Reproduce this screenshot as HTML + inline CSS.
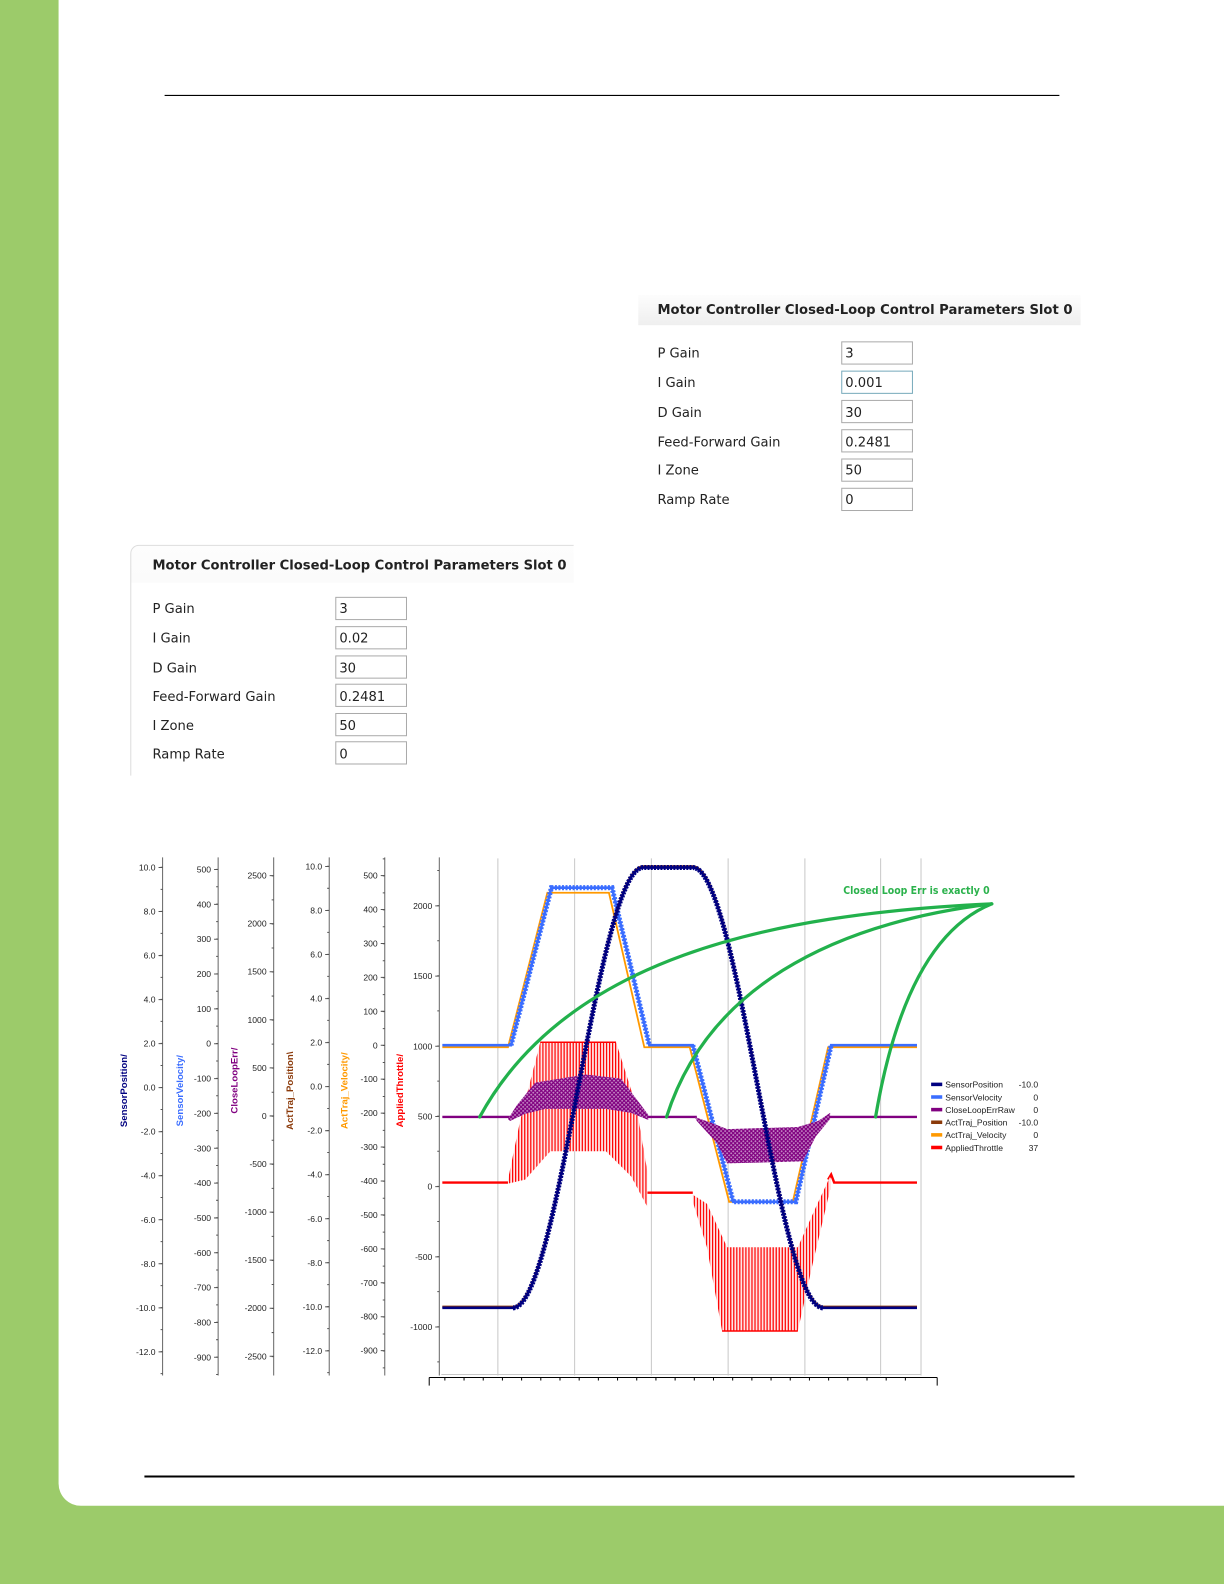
<!DOCTYPE html>
<html><head><meta charset="utf-8"><style>
html,body{margin:0;padding:0;background:#9ccb6a;}
svg{display:block}
</style></head><body>
<svg xmlns="http://www.w3.org/2000/svg" width="1224" height="1584" viewBox="0 0 1224 1584">
<defs>
<linearGradient id="hg" x1="0" y1="0" x2="0" y2="1"><stop offset="0" stop-color="#fdfdfd"/><stop offset="1" stop-color="#efefef"/></linearGradient>
<pattern id="rv" width="3" height="10" patternUnits="userSpaceOnUse"><rect width="3" height="10" fill="#ffe4e4"/><rect x="0" y="0" width="1.2" height="10" fill="#ff0000"/></pattern>
<pattern id="pv" width="4" height="4" patternUnits="userSpaceOnUse"><rect width="4" height="4" fill="#c890c8"/><path d="M0,0L4,4M4,0L0,4" stroke="#800080" stroke-width="1.2"/></pattern>
</defs>
<rect width="1224" height="1584" fill="#9ccb6a"/>
<g transform="scale(1.0099)">
<path d="M58,0 H1212 V1491 H80 A22,22 0 0 1 58,1469 Z" fill="#fff"/>
<line x1="163" y1="94.5" x2="1049" y2="94.5" stroke="#000" stroke-width="1.2"/>
<line x1="143" y1="1462" x2="1064" y2="1462" stroke="#000" stroke-width="2"/>
<rect x="632" y="292" width="438" height="30" fill="url(#hg)"/>
<g font-family="DejaVu Sans, sans-serif" font-size="13" fill="#222">
<text x="651" y="311" font-weight="bold" font-size="13.2" textLength="411" lengthAdjust="spacingAndGlyphs">Motor Controller Closed-Loop Control Parameters Slot 0</text>
<text x="651" y="354">P Gain</text><text x="651" y="383">I Gain</text><text x="651" y="413">D Gain</text>
<text x="651" y="442">Feed-Forward Gain</text><text x="651" y="470">I Zone</text><text x="651" y="499">Ramp Rate</text>
<g fill="#fff" stroke="#aaa"><rect x="833.5" y="338.5" width="70" height="22"/><rect x="833.5" y="367.5" width="70" height="22" stroke="#7ab"/><rect x="833.5" y="396.5" width="70" height="22"/><rect x="833.5" y="425.5" width="70" height="22"/><rect x="833.5" y="454.5" width="70" height="22"/><rect x="833.5" y="483.5" width="70" height="22"/></g>
<text x="837" y="354">3</text><text x="837" y="383">0.001</text><text x="837" y="413">30</text><text x="837" y="442">0.2481</text><text x="837" y="470">50</text><text x="837" y="499">0</text>
</g>
<path d="M129.5,768 V548 A8,8 0 0 1 137.5,540 H568 V577 H129.5" fill="url(#hg)"/>
<path d="M129.5,768 V548 A8,8 0 0 1 137.5,540 H568" fill="none" stroke="#ddd"/>
<g font-family="DejaVu Sans, sans-serif" font-size="13" fill="#222">
<text x="151" y="564" font-weight="bold" font-size="13.2" textLength="410" lengthAdjust="spacingAndGlyphs">Motor Controller Closed-Loop Control Parameters Slot 0</text>
<text x="151" y="607">P Gain</text><text x="151" y="636">I Gain</text><text x="151" y="666">D Gain</text>
<text x="151" y="694">Feed-Forward Gain</text><text x="151" y="723">I Zone</text><text x="151" y="751">Ramp Rate</text>
<g fill="#fff" stroke="#aaa"><rect x="332.5" y="591.5" width="70" height="22"/><rect x="332.5" y="620.5" width="70" height="22"/><rect x="332.5" y="649.5" width="70" height="22"/><rect x="332.5" y="677.5" width="70" height="22"/><rect x="332.5" y="706.5" width="70" height="22"/><rect x="332.5" y="734.5" width="70" height="22"/></g>
<text x="336" y="607">3</text><text x="336" y="636">0.02</text><text x="336" y="666">30</text><text x="336" y="694">0.2481</text><text x="336" y="723">50</text><text x="336" y="751">0</text>
</g>
<g stroke="#c8c8c8" stroke-width="1">
<line x1="493" y1="850" x2="493" y2="1362"/><line x1="569" y1="850" x2="569" y2="1362"/><line x1="645" y1="850" x2="645" y2="1362"/><line x1="721" y1="850" x2="721" y2="1362"/><line x1="797" y1="850" x2="797" y2="1362"/><line x1="872" y1="850" x2="872" y2="1362"/><line x1="912" y1="850" x2="912" y2="1362"/>
<line x1="437" y1="1361" x2="912" y2="1361"/>
</g>
<line x1="425" y1="1364" x2="928" y2="1364" stroke="#000"/>
<line x1="425" y1="1364" x2="425" y2="1372" stroke="#000"/><line x1="928" y1="1364" x2="928" y2="1372" stroke="#000"/>
<line x1="440" y1="1365.5" x2="912" y2="1365.5" stroke="#000" stroke-width="3" stroke-dasharray="1 18"/>
<g stroke="#666">
<line x1="161" y1="849" x2="161" y2="1362"/><line x1="216" y1="849" x2="216" y2="1362"/><line x1="271" y1="849" x2="271" y2="1362"/><line x1="326" y1="849" x2="326" y2="1362"/><line x1="381" y1="849" x2="381" y2="1362"/><line x1="435" y1="849" x2="435" y2="1362"/>
</g>
<g stroke="#555">
<line x1="159" y1="858.5" x2="159" y2="1362" stroke-width="4" stroke-dasharray="1 42.6"/>
<line x1="160" y1="848" x2="160" y2="1362" stroke-width="2" stroke-dasharray="1 20.8" stroke-dashoffset="-10.3"/>
<line x1="214" y1="860.5" x2="214" y2="1362" stroke-width="4" stroke-dasharray="1 33.5"/>
<line x1="215" y1="852" x2="215" y2="1362" stroke-width="2" stroke-dasharray="1 16.25" stroke-dashoffset="-8.3"/>
<line x1="269" y1="866.5" x2="269" y2="1362" stroke-width="4" stroke-dasharray="1 46.6"/>
<line x1="270" y1="855" x2="270" y2="1362" stroke-width="2" stroke-dasharray="1 22.8" stroke-dashoffset="-11.8"/>
<line x1="324" y1="857.5" x2="324" y2="1362" stroke-width="4" stroke-dasharray="1 42.6"/>
<line x1="325" y1="847" x2="325" y2="1362" stroke-width="2" stroke-dasharray="1 20.8" stroke-dashoffset="-10.3"/>
<line x1="379" y1="866.5" x2="379" y2="1362" stroke-width="4" stroke-dasharray="1 32.6"/>
<line x1="380" y1="850" x2="380" y2="1362" stroke-width="2" stroke-dasharray="1 15.8"/>
<line x1="433" y1="896.5" x2="433" y2="1362" stroke-width="4" stroke-dasharray="1 68.5"/>
<line x1="434" y1="861" x2="434" y2="1362" stroke-width="2" stroke-dasharray="1 33.75" stroke-dashoffset="-0.5"/>
</g>
<g font-family="Liberation Sans, sans-serif" font-size="8.5" fill="#222" text-anchor="end">
<g transform="translate(154,3)"><text y="859">10.0</text><text y="902.6">8.0</text><text y="946.2">6.0</text><text y="989.8">4.0</text><text y="1033.4">2.0</text><text y="1077">0.0</text><text y="1120.6">-2.0</text><text y="1164.2">-4.0</text><text y="1207.8">-6.0</text><text y="1251.4">-8.0</text><text y="1295">-10.0</text><text y="1338.6">-12.0</text></g>
<g transform="translate(209,3)"><text y="861">500</text><text y="895.5">400</text><text y="930">300</text><text y="964.5">200</text><text y="999">100</text><text y="1033.5">0</text><text y="1068">-100</text><text y="1102.5">-200</text><text y="1137">-300</text><text y="1171.5">-400</text><text y="1206">-500</text><text y="1240.5">-600</text><text y="1275">-700</text><text y="1309.5">-800</text><text y="1344">-900</text></g>
<g transform="translate(264,3)"><text y="867">2500</text><text y="914.6">2000</text><text y="962.2">1500</text><text y="1009.8">1000</text><text y="1057.4">500</text><text y="1105">0</text><text y="1152.6">-500</text><text y="1200.2">-1000</text><text y="1247.8">-1500</text><text y="1295.4">-2000</text><text y="1343">-2500</text></g>
<g transform="translate(319,3)"><text y="858">10.0</text><text y="901.6">8.0</text><text y="945.2">6.0</text><text y="988.8">4.0</text><text y="1032.4">2.0</text><text y="1076">0.0</text><text y="1119.6">-2.0</text><text y="1163.2">-4.0</text><text y="1206.8">-6.0</text><text y="1250.4">-8.0</text><text y="1294">-10.0</text><text y="1337.6">-12.0</text></g>
<g transform="translate(374,3)"><text y="867">500</text><text y="900.6">400</text><text y="934.2">300</text><text y="967.8">200</text><text y="1001.4">100</text><text y="1035">0</text><text y="1068.6">-100</text><text y="1102.2">-200</text><text y="1135.8">-300</text><text y="1169.4">-400</text><text y="1203">-500</text><text y="1236.6">-600</text><text y="1270.2">-700</text><text y="1303.8">-800</text><text y="1337.4">-900</text></g>
<g transform="translate(428,3)"><text y="897">2000</text><text y="966.5">1500</text><text y="1036">1000</text><text y="1105.5">500</text><text y="1175">0</text><text y="1244.5">-500</text><text y="1314">-1000</text></g>
</g>
<g font-family="Liberation Sans, sans-serif" font-size="9.5" font-weight="bold" text-anchor="middle">
<text transform="translate(126,1080) rotate(-90)" fill="#000080">SensorPosition/</text>
<text transform="translate(181,1080) rotate(-90)" fill="#3a6dff">SensorVelocity/</text>
<text transform="translate(235,1070) rotate(-90)" fill="#800080">CloseLoopErr/</text>
<text transform="translate(290,1080) rotate(-90)" fill="#8b3a0a">ActTraj_Position\</text>
<text transform="translate(344,1080) rotate(-90)" fill="#ff9900">ActTraj_Velocity/</text>
<text transform="translate(399,1080) rotate(-90)" fill="#ff0000">AppliedThrottle/</text>
</g>
<polyline points="438,1037 503,1037 542,884 603,884 638,1037 683,1037 722,1190 785,1190 820,1037 908,1037" fill="none" stroke="#ff9900" stroke-width="1.8"/>
<polyline points="438,1035 506,1035 546,879 606,879 643,1035 686,1035 726,1190 788,1190 823,1035 908,1035" fill="none" stroke="#3a6dff" stroke-width="2.6"/>
<polyline points="506,1035 546,879 606,879 643,1035" fill="none" stroke="#3a6dff" stroke-width="5" stroke-dasharray="2 1.5"/>
<polyline points="686,1035 726,1190 788,1190 823,1035" fill="none" stroke="#3a6dff" stroke-width="5" stroke-dasharray="2 1.5"/>
<!-- red -->
<polyline points="438,1171 503,1171" fill="none" stroke="#ff0000" stroke-width="2.4"/>
<polyline points="641,1181 686,1181" fill="none" stroke="#ff0000" stroke-width="2.4"/>
<polyline points="820,1168 823,1163 826,1171 908,1171" fill="none" stroke="#ff0000" stroke-width="2.4"/>
<polygon points="503,1168 515,1110 535,1032 610,1032 630,1095 641,1160 641,1195 625,1165 600,1140 545,1140 520,1168 503,1172" fill="url(#rv)"/>
<polyline points="535,1032 610,1032" fill="none" stroke="#ff0000" stroke-width="1.5"/>
<polygon points="686,1183 700,1192 720,1235 790,1235 808,1195 822,1165 822,1178 805,1250 790,1318 715,1318 700,1235 686,1190" fill="url(#rv)"/>
<polyline points="715,1318 790,1318" fill="none" stroke="#ff0000" stroke-width="1.5"/>
<!-- purple -->
<polyline points="438,1106 505,1106" fill="none" stroke="#800080" stroke-width="2.4"/>
<polyline points="640,1106 690,1106" fill="none" stroke="#800080" stroke-width="2.4"/>
<polyline points="820,1106 908,1106" fill="none" stroke="#800080" stroke-width="2.4"/>
<polygon points="503,1108 512,1094 530,1072 580,1064 615,1068 630,1088 642,1104 642,1109 625,1102 600,1098 540,1098 520,1103 505,1110" fill="url(#pv)"/>
<polygon points="688,1106 705,1112 720,1118 790,1116 810,1110 822,1102 822,1108 808,1125 795,1150 720,1152 710,1132 690,1110" fill="url(#pv)"/>
<!-- position -->
<path d="M438,1294 L508,1294 C554,1294 591,858 637,858 L686,858 C732,858 769,1294 815,1294 L908,1294" fill="none" stroke="#8b3a0a" stroke-width="2.4"/>
<path d="M438,1295 L508,1295 C554,1295 591,859 637,859 L686,859 C732,859 769,1295 815,1295 L908,1295" fill="none" stroke="#000080" stroke-width="2.6"/>
<path d="M508,1295 C554,1295 591,859 637,859 L686,859 C732,859 769,1295 815,1295" fill="none" stroke="#000080" stroke-width="5" stroke-dasharray="2 1.2"/>
<g font-family="Liberation Sans, sans-serif" font-size="8.5" fill="#222">
<rect x="922" y="1072" width="11" height="3.5" fill="#000080"/><text x="936" y="1077">SensorPosition</text><text x="1028" y="1077" text-anchor="end">-10.0</text>
<rect x="922" y="1084.5" width="11" height="3.5" fill="#3a6dff"/><text x="936" y="1089.5">SensorVelocity</text><text x="1028" y="1089.5" text-anchor="end">0</text>
<rect x="922" y="1097" width="11" height="3.5" fill="#800080"/><text x="936" y="1102">CloseLoopErrRaw</text><text x="1028" y="1102" text-anchor="end">0</text>
<rect x="922" y="1109.5" width="11" height="3.5" fill="#8b3a0a"/><text x="936" y="1114.5">ActTraj_Position</text><text x="1028" y="1114.5" text-anchor="end">-10.0</text>
<rect x="922" y="1122" width="11" height="3.5" fill="#ff9900"/><text x="936" y="1127">ActTraj_Velocity</text><text x="1028" y="1127" text-anchor="end">0</text>
<rect x="922" y="1134.5" width="11" height="3.5" fill="#ff0000"/><text x="936" y="1139.5">AppliedThrottle</text><text x="1028" y="1139.5" text-anchor="end">37</text>
</g>
<text x="835" y="885" font-family="DejaVu Sans, sans-serif" font-size="10.5" font-weight="bold" fill="#2bb24c" textLength="145" lengthAdjust="spacingAndGlyphs">Closed Loop Err is exactly 0</text>
<g fill="none" stroke="#22b14c" stroke-width="3.2" stroke-linecap="round">
<path d="M982,895 C760,905 560,950 475,1106"/>
<path d="M982,895 C820,915 700,980 660,1106"/>
<path d="M982,895 C920,920 885,1000 867,1106"/>
</g>
</g>
</svg>
</body></html>
